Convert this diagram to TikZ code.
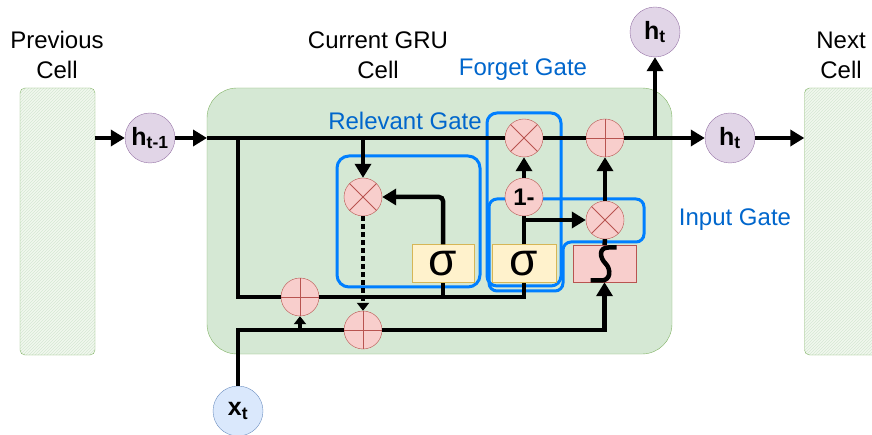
\documentclass[tikz,border=0pt]{standalone}
\usepackage{fontspec}
\setmainfont{Liberation Sans}
\usetikzlibrary{positioning,arrows.meta,patterns}
\definecolor{opfill}{HTML}{F8CECC}
\definecolor{opdraw}{HTML}{B85450}
\definecolor{hfill}{HTML}{E1D5E7}
\definecolor{hdraw}{HTML}{9673A6}
\definecolor{xfill}{HTML}{DAE8FC}
\definecolor{xdraw}{HTML}{6C8EBF}
\definecolor{sigfill}{HTML}{FFF2CC}
\definecolor{sigdraw}{HTML}{D6B656}
\definecolor{cellfill}{HTML}{D5E8D4}
\definecolor{celldraw}{HTML}{82B366}
\definecolor{hatchfill}{HTML}{F2F8EF}
\definecolor{hatchline}{HTML}{D5E8D4}
\definecolor{gateblue}{HTML}{007FFF}
\definecolor{gatetext}{HTML}{0066CC}

\begin{document}
\begin{tikzpicture}[x=1pt,y=-1pt,
 line/.style={line width=4.5pt},
 arrow/.style={line width=4.5pt,-{Triangle[length=14pt,width=16pt]}},
 tip/.style={line width=4.5pt,-{Triangle[length=8pt,width=12pt]}},
 op/.style={circle,draw=opdraw,fill=opfill,minimum size=38pt,inner sep=0pt},
 mul/.style={op,path picture={\draw[opdraw,line width=0.8pt] (path picture bounding box.north east)--(path picture bounding box.south west) (path picture bounding box.north west)--(path picture bounding box.south east);}},
 add/.style={op,path picture={\draw[opdraw,line width=0.8pt] (path picture bounding box.north)--(path picture bounding box.south) (path picture bounding box.west)--(path picture bounding box.east);}},
 state/.style={circle,draw=hdraw,fill=hfill,minimum size=50pt,inner sep=0pt,font=\fontsize{25}{25}\selectfont\bfseries},
 input/.style={state,draw=xdraw,fill=xfill},
 sigbox/.style={draw=sigdraw,fill=sigfill,minimum width=62pt,minimum height=38pt,inner sep=0pt,font=\fontsize{46}{46}\selectfont},
 tanhbox/.style={draw=opdraw,fill=opfill,minimum width=63pt,minimum height=37pt,inner sep=0pt},
 gatebox/.style={draw=gateblue,line width=3pt,rounded corners=12pt},
 gatelabel/.style={text=gatetext,font=\fontsize{24}{24}\selectfont},
 title/.style={align=center,font=\fontsize{24}{30}\selectfont},
 nbcell/.style={draw=celldraw,rounded corners=5pt,preaction={fill=hatchfill},pattern=north east lines,pattern color=hatchline,minimum width=75pt,minimum height=267pt,inner sep=0pt}]
\useasboundingbox (0,0) rectangle (872,435);
% cells
\node[draw=celldraw,fill=cellfill,rounded corners=30pt,minimum width=465pt,minimum height=266pt] (gru) at (439.5,221) {};
\node[nbcell] (prev) at (57.5,221.5) {};
\node[nbcell] (next) at (842,221.5) {};
\node[title] (prevlbl) at (57,55) {Previous\\Cell};
\node[title] (grulbl) at (378,55) {Current GRU\\Cell};
\node[title] (nextlbl) at (841,55) {Next\\Cell};
% gates
\draw[gatebox] (337,156) rectangle (480,287);
\draw[gatebox,rounded corners=10pt] (487,113) rectangle (561,286);
\draw[gatebox,rounded corners=8pt] (489,199) -- (644,199) -- (644,242) -- (563,242) -- (563,291) -- (489,291) -- cycle;
\node[gatelabel] (rlbl) at (405,121) {Relevant Gate};
\node[gatelabel] (flbl) at (523,70) {Forget Gate};
\node[gatelabel] (ilbl) at (735,220) {Input Gate};
% nodes
\node[state] (hprev) at (150,138) {h\textsubscript{t-1}};
\node[state] (htu) at (655,32) {h\textsubscript{t}};
\node[state] (htr) at (730,138) {h\textsubscript{t}};
\node[input] (xt) at (238,411) {x\textsubscript{t}};
\node[mul] (rmul) at (363,197) {};
\node[mul] (fmul) at (524,138) {};
\node[mul] (imul) at (605,220) {};
\node[add] (addh) at (605,138) {};
\node[add] (add1) at (300,297) {};
\node[add] (add2) at (363,330) {};
\node[op,font=\fontsize{24}{24}\selectfont\bfseries] (one) at (524,197) {1-};
\node[sigbox] (sig1) at (443,263.5) {σ};
\node[sigbox,minimum width=64pt] (sig2) at (524,263.5) {σ};
\node[tanhbox] (tanh) at (604.5,263.5) {};
\draw[line width=4.5pt] ([shift={(-14,17)}]tanh.center) -- ([shift={(-3,17)}]tanh.center) .. controls ([shift={(6,17)}]tanh.center) and ([shift={(7,6)}]tanh.center) .. ([shift={(1,0)}]tanh.center) .. controls ([shift={(-5,-6)}]tanh.center) and ([shift={(-6,-16)}]tanh.center) .. ([shift={(4,-16)}]tanh.center) -- ([shift={(12,-16)}]tanh.center);
\coordinate (in) at (207,138);
\coordinate (brl) at (238,138);
\coordinate (split) at (655,138);
% connectors
\draw[arrow] (prev.east |- hprev) -- (hprev);
\draw[arrow] (hprev) -- (in);
\draw[line] (in) -- (fmul); \draw[line] (fmul) -- (addh); \draw[line] (addh) -- (split);
\draw[arrow] (split) -- (htr); \draw[arrow] (split) -- (htu);
\draw[arrow] (htr) -- (next.west |- htr);
\draw[arrow] (rmul |- in) -- (rmul);
\draw[line] (brl) -- (brl |- add1) -- (add1);
\draw[line] (add1) -- (sig2 |- add1) -- (sig2);
\draw[line] (sig1 |- add1) -- (sig1);
\draw[arrow,rounded corners=4pt] (sig1) |- (rmul);
\draw[tip,dash pattern=on 5pt off 3pt] (rmul) -- (add2);
\draw[line] (xt) -- (xt |- add2) -- (add2);
\draw[arrow] (add2) -| (tanh);
\draw[tip] (add1 |- add2) -- (add1);
\draw[line] (sig2) -- (one);
\draw[arrow] (one) -- (fmul);
\draw[arrow] (one |- imul) -- (imul);
\draw[line] (tanh) -- (imul);
\draw[arrow] (imul) -- (addh);
\end{tikzpicture}
\end{document}
